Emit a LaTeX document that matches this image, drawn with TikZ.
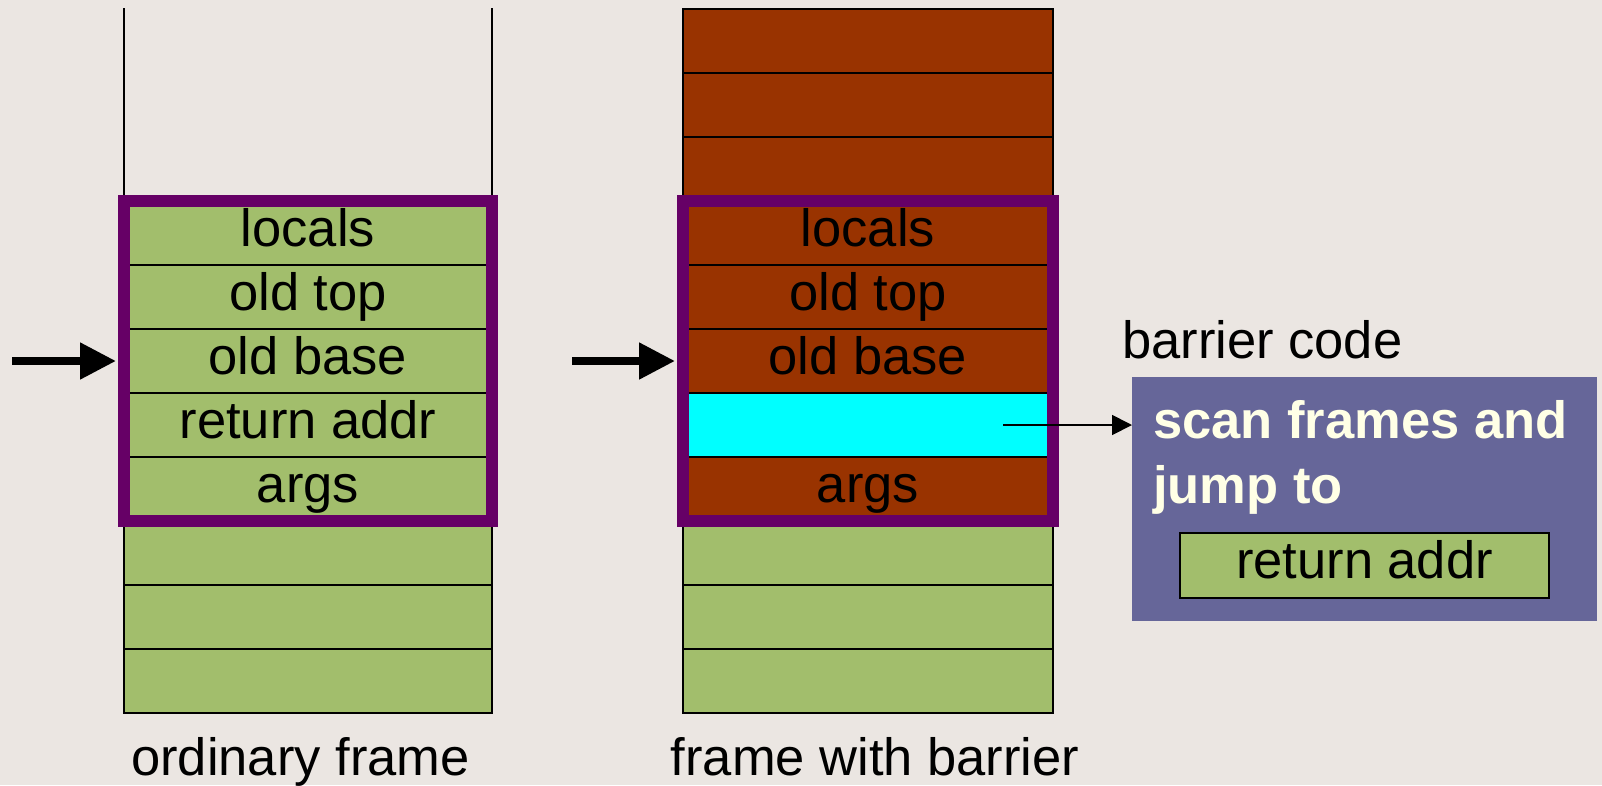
\documentclass[tikz,border=0pt]{standalone}
\usepackage{fontspec}
\setmainfont{Liberation Sans}
\usetikzlibrary{arrows.meta,calc}
\definecolor{bg}{RGB}{235,230,226}
\definecolor{stackgreen}{RGB}{162,190,108}
\definecolor{brick}{RGB}{153,51,0}
\definecolor{framepurple}{RGB}{102,0,102}
\definecolor{codeblue}{RGB}{102,102,153}
\definecolor{cream}{RGB}{255,255,230}
\definecolor{slotcyan}{RGB}{0,255,255}
\begin{document}
\begin{tikzpicture}[x=1pt,y=-1pt,
  bigfont/.style={font=\fontsize{52.5}{60}\selectfont},
  cell/.style={draw=black, line width=1.8pt, minimum width=368pt, minimum height=64pt,
    inner sep=0pt, outer sep=0pt, text height=38pt, text depth=12pt, bigfont},
  mcell/.style={cell, minimum width=370pt},
  gcell/.style={fill=stackgreen},
  bcell/.style={fill=brick},
  stackline/.style={draw=black, line width=1.8pt},
  purpleframe/.style={draw=framepurple, line width=12pt},
  bigarrow/.style={draw=black, line width=8pt, -{Triangle[length=36pt,width=35pt]}},
  thinarrow/.style={draw=black, line width=1.8pt, -{Triangle[length=20pt,width=20pt]}},
  label/.style={bigfont, inner sep=0pt, anchor=base}]
\fill[bg] (0,0) rectangle (1602,785);
\useasboundingbox (0,0) rectangle (1602,785);
\coordinate (top) at (0,8);
% left stack
\node[cell,gcell] (l1) at (308,233) {locals};
\node[cell,gcell] (l2) at (308,297) {old top};
\node[cell,gcell] (l3) at (308,361) {old base};
\node[cell,gcell] (l4) at (308,425) {return addr};
\node[cell,gcell] (l5) at (308,489) {args};
\node[cell,gcell] (l6) at (308,553) {};
\node[cell,gcell] (l7) at (308,617) {};
\node[cell,gcell] (l8) at (308,681) {};
\draw[stackline] (l1.north west) -- (l1.north west |- top);
\draw[stackline] (l1.north east) -- (l1.north east |- top);
\draw[purpleframe] (l1.north west) rectangle (l5.south east);
% middle stack
\node[mcell,bcell] (m0a) at (868,41) {};
\node[mcell,bcell] (m0b) at (868,105) {};
\node[mcell,bcell] (m0c) at (868,169) {};
\node[mcell,bcell] (m1) at (868,233) {locals};
\node[mcell,bcell] (m2) at (868,297) {old top};
\node[mcell,bcell] (m3) at (868,361) {old base};
\node[mcell,fill=slotcyan] (m4) at (868,425) {};
\node[mcell,bcell] (m5) at (868,489) {args};
\node[mcell,gcell] (m6) at (868,553) {};
\node[mcell,gcell] (m7) at (868,617) {};
\node[mcell,gcell] (m8) at (868,681) {};
\draw[purpleframe] (m1.north west) rectangle (m5.south east);
% pointer arrows
\coordinate (a1) at (12,361);
\coordinate (a2) at (572,361);
\draw[bigarrow] (a1) -- ([xshift=-8pt]l3.west);
\draw[bigarrow] (a2) -- ([xshift=-8pt]m3.west);
% barrier code
\node[label, anchor=base west] (bclabel) at (1122,358) {barrier code};
\node[fill=codeblue, minimum width=465pt, minimum height=244pt, inner sep=0pt, anchor=north west] (code) at (1132,377) {};
\node[label, anchor=base west, text=cream, font=\fontsize{52.5}{60}\selectfont\bfseries] (scan1) at (1153,438) {scan frames and};
\node[label, anchor=base west, text=cream, font=\fontsize{52.5}{60}\selectfont\bfseries] (scan2) at (1153,503) {jump to};
\node[cell,gcell, minimum width=369pt, minimum height=65pt, line width=1.5pt] (ret) at (1364.5,565.5) {return addr};
\coordinate (c0) at (1003,425);
\draw[thinarrow] (c0) -- (c0 -| code.west);
% captions
\node[label] (cap1) at (300.5,775) {ordinary frame};
\node[label] (cap2) at (875,775) {frame with barrier};
\end{tikzpicture}
\end{document}
